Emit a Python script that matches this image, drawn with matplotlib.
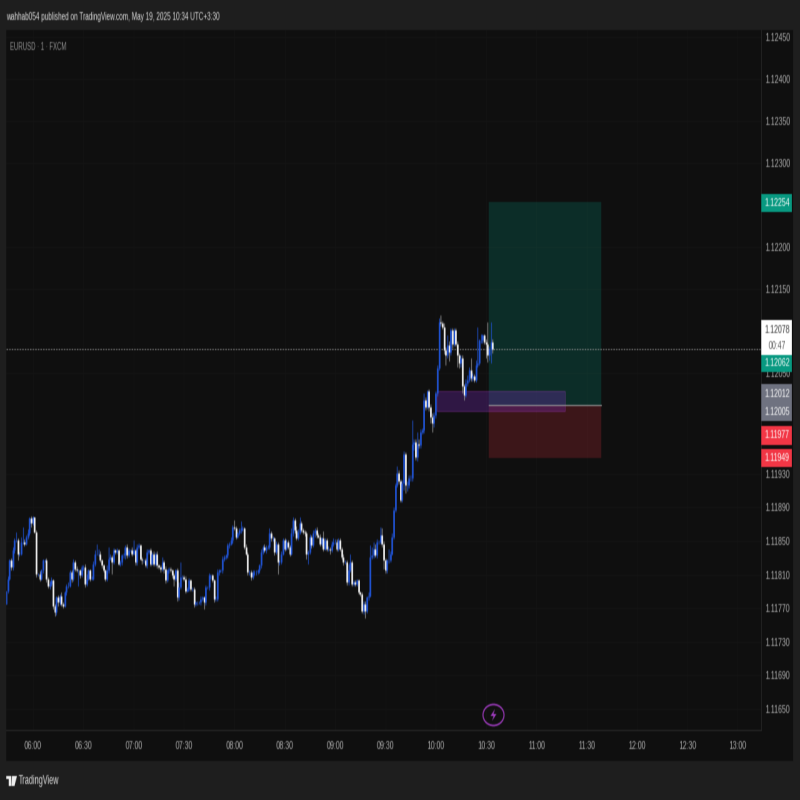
import matplotlib
matplotlib.use('Agg')
import matplotlib.pyplot as plt, numpy as np
from matplotlib.patches import Rectangle, Circle, Polygon

plt.rcParams['font.family'] = ['Liberation Sans', 'DejaVu Sans']

# closes in 1e-5 price units, one candle per minute, last candle is 10:34
closes = [
    11791,11805,11827,11819,11839,11851,11851,11835,11835,11849,
    11849,11847,11855,11859,11877,11871,11879,11861,11811,11811,
    11805,11815,11827,11827,11805,11797,11799,11803,11773,11765,
    11783,11777,11785,11775,11773,11789,11797,11797,11813,11805,
    11825,11817,11815,11815,11809,11819,11819,11799,11805,11815,
    11805,11805,11823,11835,11835,11835,11827,11821,11815,11805,
    11815,11829,11831,11825,11839,11837,11839,11823,11825,11833,
    11833,11843,11833,11839,11839,11835,11839,11825,11843,11845,
    11829,11827,11827,11821,11837,11839,11823,11835,11823,11835,
    11821,11819,11817,11825,11817,11803,11815,11817,11815,11809,
    11805,11815,11783,11795,11807,11807,11805,11791,11793,11803,
    11793,11793,11775,11777,11777,11777,11781,11783,11777,11795,
    11795,11809,11809,11803,11781,11781,11813,11815,11815,11829,
    11831,11833,11845,11847,11851,11867,11865,11855,11859,11863,
    11865,11865,11843,11835,11813,11813,11807,11813,11813,11813,
    11815,11821,11837,11843,11839,11843,11843,11859,11853,11853,
    11837,11847,11825,11825,11835,11851,11841,11849,11843,11835,
    11859,11875,11863,11853,11861,11871,11863,11861,11859,11835,
    11837,11855,11845,11859,11863,11857,11855,11847,11853,11841,
    11851,11841,11841,11839,11847,11849,11849,11841,11851,11841,
    11831,11825,11825,11801,11815,11825,11799,11801,11799,11803,
    11789,11787,11767,11775,11767,11783,11785,11831,11833,11841,
    11833,11849,11849,11857,11847,11827,11815,11827,11827,11835,
    11855,11887,11917,11931,11921,11899,11919,11954,11917,11917,
    11925,11925,11966,11968,11950,11966,11964,11980,11982,12018,
    12010,12028,12010,11998,11990,12000,12026,12056,12111,12109,
    12105,12077,12071,12083,12075,12101,12085,12101,12085,12071,
    12062,12068,12034,12024,12038,12042,12054,12044,12046,12042,
    12060,12062,12089,12089,12095,12087,12085,12071,12079,12087,
    12078]
first_open = 11775

upper_wicks = [
    0,3,2,3,4,2,10,3,2,6,
    18,3,2,5,2,3,1,0,2,1,
    3,2,2,1,3,2,3,4,2,2,
    2,3,2,4,2,2,2,4,3,2,
    3,2,3,2,2,3,2,4,6,2,
    2,3,3,4,12,5,3,2,2,2,
    6,14,3,2,3,2,3,2,2,2,
    3,2,3,3,2,4,12,2,3,3,
    2,2,2,3,3,2,3,2,3,2,
    3,2,2,6,2,3,2,2,2,2,
    3,2,3,6,18,3,2,3,2,3,
    2,2,2,1,2,2,3,2,2,3,
    2,3,2,2,2,3,4,2,2,3,
    2,2,3,2,4,2,8,3,2,3,
    9,3,2,3,2,2,3,2,2,3,
    2,2,3,2,3,2,2,6,3,3,
    2,3,2,2,3,3,2,3,2,2,
    6,3,2,5,3,8,3,2,2,3,
    2,3,2,4,3,4,3,3,2,9,
    3,2,3,2,3,4,3,3,2,3,
    2,3,2,2,8,10,2,2,3,2,
    2,2,2,3,3,2,4,14,10,8,
    5,3,2,10,8,3,3,2,14,3,
    4,3,2,8,4,3,4,3,2,4,
    3,3,28,3,4,14,5,3,3,8,
    3,2,3,3,4,3,2,3,4,8,
    3,4,4,12,5,3,3,2,3,3,
    3,4,3,3,5,6,3,14,4,3,
    5,43,2,8,2,2,3,26,3,24,
    4]
lower_wicks = [
    0,3,2,4,3,3,2,8,3,2,
    3,3,2,3,2,4,2,2,4,3,
    3,2,3,2,4,3,4,2,4,4,
    3,4,3,2,3,2,3,3,2,4,
    3,3,2,18,3,2,3,4,3,2,
    3,2,2,3,2,3,2,3,2,3,
    3,3,2,14,2,3,3,2,3,3,
    3,4,3,2,2,3,2,4,3,2,
    2,4,3,2,3,3,3,2,3,3,
    3,2,4,3,5,3,2,3,2,3,
    8,3,4,3,2,2,3,3,2,3,
    2,3,4,2,3,2,3,3,8,3,
    2,3,4,2,4,3,2,3,2,3,
    3,2,3,3,2,3,2,3,2,2,
    3,3,2,2,3,3,4,2,3,3,
    2,3,3,3,2,3,2,3,3,3,
    4,3,14,3,2,2,3,2,3,3,
    2,3,3,2,2,3,2,3,3,6,
    12,3,3,2,4,3,2,3,3,3,
    2,3,3,4,2,3,3,3,3,3,
    3,3,2,3,3,2,3,3,2,3,
    2,3,3,4,9,3,3,2,3,3,
    2,3,3,3,4,10,3,3,3,2,
    2,3,2,3,3,2,3,8,10,8,
    4,3,3,8,3,5,3,3,3,3,
    4,3,5,8,10,4,3,3,3,3,
    3,4,11,3,11,3,5,3,3,14,
    6,5,8,6,3,3,3,3,3,3,
    3,3,3,3,3,3,17,8,6,17,
    4]

price_ticks = [1.12450, 1.12400, 1.12350, 1.12300, 1.12200, 1.12150, 1.12050, 1.11930,
               1.11890, 1.11850, 1.11810, 1.11770, 1.11730, 1.11690, 1.11650]
time_labels = ['06:00','06:30','07:00','07:30','08:00','08:30','09:00','09:30',
               '10:00','10:30','11:00','11:30','12:00','12:30','13:00']
last_price = 1.12078
take_profit = 1.12254
entry = 1.12012
stop = 1.11949
zone_top, zone_bottom = 1.12029, 1.12005

BG = '#0f0f0f'
OUTER = '#1e1e1e'
BLUE = '#2157e0'

closes = np.array(closes)
opens = np.r_[first_open, closes[:-1]]
highs = np.maximum(opens, closes) + np.array(upper_wicks)
lows = np.minimum(opens, closes) - np.array(lower_wicks)
minutes = np.arange(274 - len(closes) + 1, 275)  # minutes after 06:00
up = closes >= opens

# the reference is a wide screenshot squeezed to a square, so draw wide and squeeze at the end
fig = plt.figure(figsize=(12.8, 8), dpi=100, facecolor=OUTER)
fig.add_artist(Rectangle((6/800, 39/800), 787/800, 731/800, transform=fig.transFigure,
                         color=BG, lw=0, zorder=-1))

ax = fig.add_axes([6/800, 70/800, 755/800, 700/800], facecolor=BG)
ax.set_xlim((6-33)/1.678, (761-33)/1.678)
ax.set_ylim(1.1245-693/84000, 1.1245+7/84000)

ax.set_xticks(np.arange(len(time_labels))*30)
ax.set_xticklabels(time_labels)
ax.set_yticks(price_ticks)
ax.set_yticklabels(['%.5f' % p for p in price_ticks])
ax.yaxis.tick_right()
ax.grid(color='#151515', lw=0.6)
ax.set_axisbelow(True)
ax.tick_params(axis='both', length=0, labelsize=8, colors='#b4b4b4')
ax.tick_params(axis='x', pad=8)
ax.tick_params(axis='y', pad=4.5)
for s in ['top', 'left']:
    ax.spines[s].set_visible(False)
for s in ['bottom', 'right']:
    ax.spines[s].set_color('#2a2a2a')
    ax.spines[s].set_linewidth(0.8)

# position tool and zone
ax.fill_between([271.5, 338.5], entry, take_profit, color='#089981', alpha=0.22, lw=0, zorder=1)
ax.fill_between([271.5, 338.5], stop, entry, color='#f23645', alpha=0.2, lw=0, zorder=1)
ax.add_patch(Rectangle((240.8, zone_bottom), 76.2, zone_top-zone_bottom, fc='#7b2cbf', alpha=0.3,
                       ec='#b040c8', lw=0.8, zorder=1.2))
ax.plot([271.5, 338.5], [entry, entry], color='#9a9a9a', lw=0.8, zorder=1.3)
ax.axhline(last_price, color='#9a9a9a', lw=0.6, ls=(0, (3, 2)), zorder=1.4)

# candles
to_price = lambda v: 1 + np.asarray(v)/1e5
wick_cols = np.where(up, '#2050c8', '#909090')
body_cols = np.where(up, BLUE, '#ffffff')
ax.vlines(minutes, to_price(lows), to_price(highs), colors=wick_cols, lw=0.9, zorder=2)
ax.vlines(minutes, to_price(np.minimum(opens, closes)), to_price(np.maximum(opens, closes)),
          colors=body_cols, lw=1.8, zorder=3)

# overlay in pixel coordinates for the labels and furniture
ov = fig.add_axes([0, 0, 1, 1], zorder=5)
ov.set_xlim(0, 800)
ov.set_ylim(800, 0)
ov.axis('off')

def badge(y0, y1, col):
    ov.add_patch(Rectangle((761, y0), 31, y1-y0, fc=col, lw=0))

def label(y, s, col):
    ov.text(777, y, s, color=col, fontsize=8, ha='center', va='center')

badge(194, 212, '#089981')
badge(320, 355, '#ffffff')
badge(355, 372, '#089981')
badge(384, 421, '#6f7280')
badge(426, 445, '#f23645')
badge(449, 467, '#f23645')
label(203, '1.12254', '#ffffff')
label(330, '1.12078', '#333333')
label(346, '00:47', '#555555')
label(363, '1.12062', '#ffffff')
label(394, '1.12012', '#ffffff')
label(412, '1.12005', '#ffffff')
label(435, '1.11977', '#ffffff')
label(458, '1.11949', '#ffffff')

ov.text(6, 17, 'wahhab054 published on TradingView.com, May 19, 2025 10:34 UTC+3:30',
        color='#e0e0e0', fontsize=7.4, ha='left', va='center')
ov.text(10, 47, 'EURUSD · 1 · FXCM', color='#969696', fontsize=6.9, ha='left', va='center')

# lightning icon
ov.add_patch(Circle((493.5, 715), 10.5, fc='none', ec='#a03cc0', lw=1.2))
ov.add_patch(Polygon([(495, 709), (490.5, 716), (493.5, 716), (492, 721), (496.5, 714), (493.5, 714)],
                     fc='#a03cc0', lw=0))

# TradingView logo
ov.add_patch(Polygon([(6, 776), (11, 776), (11, 786), (8.5, 786), (8.5, 778.5), (6, 778.5)], fc='#eeeeee', lw=0))
ov.add_patch(Polygon([(12, 776), (17, 776), (14.5, 786), (11.5, 786)], fc='#eeeeee', lw=0))
ov.text(18.5, 781, 'TradingView', color='#e4e4e4', fontsize=8.5, ha='left', va='center')

# squeeze 1280 wide down to 800, with the slight softness the reference has
fig.canvas.draw()
rgba = np.asarray(fig.canvas.buffer_rgba())[:, :, :3] / 255.0
wide = np.repeat(rgba, 5, axis=1)
small = wide.reshape(800, 800, 8, 3).mean(axis=2)
soft = 0.6*small + 0.2*np.roll(small, 1, axis=0) + 0.2*np.roll(small, -1, axis=0)
plt.imsave('out.png', soft)
